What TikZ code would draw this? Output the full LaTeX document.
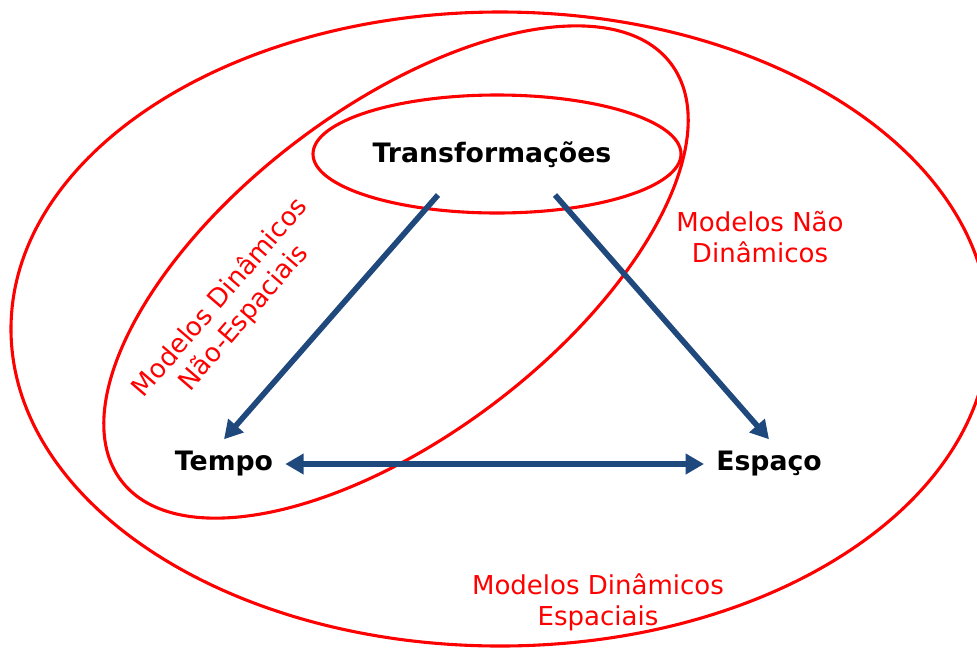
\documentclass[tikz,border=0pt]{standalone}
\usepackage{fontspec}
\setmainfont{DejaVu Sans}
\usepackage{tikz}
\usetikzlibrary{positioning,arrows.meta}
\definecolor{colorset}  {RGB}{255,0 ,0  }
\definecolor{colorlink} {RGB}{31 ,73,125}
\definecolor{colortext} {RGB}{0  ,0 ,0  }

\begin{document}
\begin{tikzpicture}[
    x=0.025cm, y=-0.025cm,
    corner/.style={text=colortext,font={\fontsize{19}{23}\selectfont\bfseries},inner sep=8.5pt},
    model/.style={text=colorset,font={\fontsize{18.5}{22}\selectfont},align=center},
    set/.style={draw=colorset,line width=2.2pt},
    link/.style={draw=colorlink,line width=4pt,-{Triangle[length=13pt,width=14pt]}},
]
    \useasboundingbox (0,0) rectangle (977,653);

    % the three model sets
    \draw[set] (500,329) ellipse [x radius=489, y radius=317];
    \draw[set] (396,272) ellipse [x radius=345, y radius=164, rotate=37.2];
    \draw[set] (497,154) ellipse [x radius=184, y radius=59];

    \node[corner] (trans) at (492,155) {Transformações};
    \node[corner] (tempo) at (224,464) {Tempo};
    \node[corner] (espaco) at (769,464) {Espaço};

    \coordinate (transl) at (438,195);
    \coordinate (transr) at (555,195);

    \draw[link] (transl) -- (tempo.north);
    \draw[link] (transr) -- (espaco.north);
    \draw[link,{Triangle[length=13pt,width=14pt]}-{Triangle[length=13pt,width=14pt]}] (tempo.east) -- (espaco.west);

    \node[model,rotate=49.3] (naoespacial) at (232,308) {Modelos Dinâmicos\\Não-Espaciais};
    \node[model] (naodinamico) at (760,237) {Modelos Não\\Dinâmicos};
    \node[model] (espacial) at (598,602) {Modelos Dinâmicos\\Espaciais};

\end{tikzpicture}
\end{document}
